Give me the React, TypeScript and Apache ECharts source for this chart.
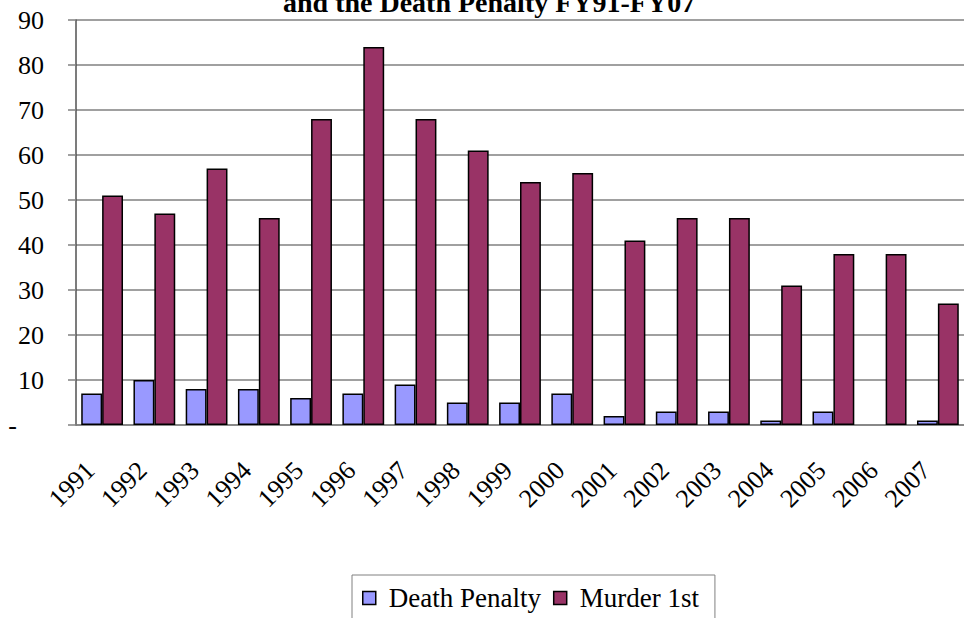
import React, { useEffect, useRef } from "react";
import * as echarts from "echarts";

const years = ["1991","1992","1993","1994","1995","1996","1997","1998","1999","2000","2001","2002","2003","2004","2005","2006","2007"];
const deathPenalty = [7, 10, 8, 8, 6, 7, 9, 5, 5, 7, 2, 3, 3, 1, 3, 0, 1];
const murder1st = [51, 47, 57, 46, 68, 84, 68, 61, 54, 56, 41, 46, 46, 31, 38, 38, 27];
const titleText = "and the Death Penalty FY91-FY07";

const FONT = "Liberation Serif";

export default function App() {
  const ref = useRef<HTMLDivElement>(null);
  useEffect(() => {
    if (!ref.current) return;
    const chart = echarts.init(ref.current, null, { renderer: "svg" });
    const toItems = (arr: number[]) =>
      arr.map((v) => (v === 0 ? { value: v, itemStyle: { borderWidth: 0 } } : v));
    chart.setOption({
      animation: false,
      backgroundColor: "#ffffff",
      graphic: [
        {
          type: "text",
          left: 283,
          top: -12,
          style: { text: titleText, fontFamily: FONT, fontWeight: "bold", fontSize: 28, fill: "#000" },
        },
      ],
      grid: { left: 76, top: 20, right: -10, bottom: 193, containLabel: false },
      legend: {
        left: 352,
        top: 575,
        icon: "rect",
        itemWidth: 13,
        itemHeight: 13,
        itemGap: 12,
        borderColor: "#808080",
        borderWidth: 1,
        padding: [8, 16, 20, 10],
        data: ["Death Penalty", "Murder 1st"],
        itemStyle: { borderColor: "#000", borderWidth: 1.5 },
        textStyle: { fontFamily: FONT, fontSize: 27, color: "#000", lineHeight: 30, padding: [0, 0, 0, 8] },
      },
      xAxis: {
        type: "category",
        data: years,
        axisLine: { lineStyle: { color: "#808080", width: 1.5 } },
        axisTick: { alignWithLabel: false, length: 7, lineStyle: { color: "#808080", width: 1.5 } },
        axisLabel: {
          rotate: 45,
          margin: 29,
          padding: [0, 17, 0, 0],
          fontFamily: FONT,
          fontSize: 26,
          color: "#000",
          interval: 0,
        },
      },
      yAxis: {
        type: "value",
        min: 0,
        max: 90,
        interval: 10,
        axisLine: { show: true, lineStyle: { color: "#505050", width: 1.5 } },
        axisTick: { show: true, length: 8, lineStyle: { color: "#808080", width: 1.5 } },
        splitLine: { lineStyle: { color: "#808080", width: 1.5 } },
        axisLabel: {
          margin: 32,
          fontFamily: FONT,
          fontSize: 26,
          color: "#000",
          formatter: (v: number) => (v === 0 ? "{dash|-}" : String(v)),
          rich: { dash: { fontFamily: FONT, fontSize: 26, color: "#000", padding: [0, 27, 0, 0] } },
        },
      },
      series: [
        {
          name: "Death Penalty",
          type: "bar",
          data: toItems(deathPenalty),
          barGap: "0%",
          barCategoryGap: "20%",
          itemStyle: { color: "#9999FF", borderColor: "#000", borderWidth: 1.5 },
        },
        {
          name: "Murder 1st",
          type: "bar",
          data: toItems(murder1st),
          barGap: "0%",
          barCategoryGap: "20%",
          itemStyle: { color: "#993366", borderColor: "#000", borderWidth: 1.5 },
        },
      ],
    });
    return () => chart.dispose();
  }, []);
  return (
    <div
      ref={ref}
      style={{ position: "fixed", left: 0, top: 0, width: 964, height: 618, background: "#fff" }}
    />
  );
}
